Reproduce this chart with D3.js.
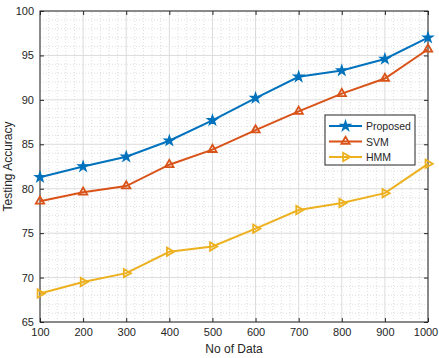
<!DOCTYPE html>
<html>
<head>
<meta charset="utf-8">
<script src="https://cdn.jsdelivr.net/npm/d3@7"></script>
<style>
  body { margin: 0; background: #fff; }
  text { font-family: "Liberation Sans", Arial, sans-serif; }
</style>
</head>
<body>
<svg id="chart" width="439" height="358"></svg>
<script>
var dataSize = [100, 200, 300, 400, 500, 600, 700, 800, 900, 1000];
var proposed = [81.3, 82.5, 83.6, 85.4, 87.7, 90.2, 92.6, 93.3, 94.6, 97.0];
var svmAcc   = [78.6, 79.6, 80.3, 82.7, 84.4, 86.6, 88.7, 90.7, 92.4, 95.7];
var hmmAcc   = [68.2, 69.5, 70.5, 72.9, 73.5, 75.5, 77.6, 78.4, 79.5, 82.8];
var xTicks = [100, 200, 300, 400, 500, 600, 700, 800, 900, 1000];
var yTicks = [65, 70, 75, 80, 85, 90, 95, 100];
var seriesNames = ["Proposed", "SVM", "HMM"];
var colors = ["#0072BD", "#D95319", "#EDB120"];

var margin = {left: 40, right: 11, top: 11, bottom: 36};
var width = 439, height = 358;

var svg = d3.select("#chart");

var x = d3.scaleLinear().domain([100, 1000]).range([margin.left, width - margin.right]);
var y = d3.scaleLinear().domain([65, 100]).range([height - margin.bottom, margin.top]);

var g = svg.append("g");

// minor grid (dotted)
var xMinor = d3.range(100, 1001, 20).filter(function(v) { return v % 100 !== 0; });
var yMinor = d3.range(65, 100.01, 1).filter(function(v) { return v % 5 !== 0; });

g.selectAll(".xminor").data(xMinor).enter().append("line")
  .attr("x1", function(d) { return x(d); }).attr("x2", function(d) { return x(d); })
  .attr("y1", y(65)).attr("y2", y(100))
  .attr("stroke", "#c8c8c8").attr("stroke-width", 0.6).attr("stroke-dasharray", "1,2");
g.selectAll(".yminor").data(yMinor).enter().append("line")
  .attr("y1", function(d) { return y(d); }).attr("y2", function(d) { return y(d); })
  .attr("x1", x(100)).attr("x2", x(1000))
  .attr("stroke", "#c8c8c8").attr("stroke-width", 0.6).attr("stroke-dasharray", "1,2");

// major grid
g.selectAll(".xmajor").data(xTicks).enter().append("line")
  .attr("x1", function(d) { return x(d); }).attr("x2", function(d) { return x(d); })
  .attr("y1", y(65)).attr("y2", y(100))
  .attr("stroke", "#dcdcdc").attr("stroke-width", 1);
g.selectAll(".ymajor").data(yTicks).enter().append("line")
  .attr("y1", function(d) { return y(d); }).attr("y2", function(d) { return y(d); })
  .attr("x1", x(100)).attr("x2", x(1000))
  .attr("stroke", "#dcdcdc").attr("stroke-width", 1);

// axes
var xAxis = d3.axisBottom(x).tickValues(xTicks).tickFormat(d3.format("d"))
  .tickSizeInner(-4).tickSizeOuter(0).tickPadding(6);
var yAxis = d3.axisLeft(y).tickValues(yTicks).tickFormat(d3.format("d"))
  .tickSizeInner(-4).tickSizeOuter(0).tickPadding(6);

var gx = svg.append("g").attr("transform", "translate(0," + y(65) + ")").call(xAxis);
svg.append("g").attr("transform", "translate(" + x(100) + ",0)").call(yAxis);
// top / right ticks
svg.append("g").attr("transform", "translate(0," + y(100) + ")")
  .call(d3.axisTop(x).tickValues(xTicks).tickSizeInner(-4).tickSizeOuter(0).tickFormat(""));
svg.append("g").attr("transform", "translate(" + x(1000) + ",0)")
  .call(d3.axisRight(y).tickValues(yTicks).tickSizeInner(-4).tickSizeOuter(0).tickFormat(""));

svg.selectAll(".domain").remove();
svg.selectAll(".tick line").attr("stroke", "#262626");
svg.selectAll(".tick text").attr("fill", "#262626").style("font-size", "11px");
// keep the last label inside the window
gx.selectAll(".tick text").filter(function(d) { return d === 1000; }).attr("dx", "-2.5");

// frame
svg.append("rect")
  .attr("x", x(100)).attr("y", y(100))
  .attr("width", x(1000) - x(100)).attr("height", y(65) - y(100))
  .attr("fill", "none").attr("stroke", "#262626").attr("stroke-width", 1);

// axis titles
svg.append("text").attr("x", (x(100) + x(1000)) / 2).attr("y", 353)
  .attr("text-anchor", "middle").attr("fill", "#262626").style("font-size", "12px").text("No of Data");
svg.append("text").attr("transform", "translate(12," + ((y(65) + y(100)) / 2) + ") rotate(-90)")
  .attr("text-anchor", "middle").attr("fill", "#262626").style("font-size", "12px").text("Testing Accuracy");

// markers
var star = d3.symbol().type(d3.symbolStar).size(32);
var tri = d3.symbol().type(d3.symbolTriangle).size(30);

function drawMarker(sel, i) {
  if (i === 0) {
    sel.append("path").attr("d", star).attr("fill", colors[0]).attr("stroke", colors[0]).attr("stroke-width", 1.2);
  } else if (i === 1) {
    sel.append("path").attr("d", tri).attr("fill", "none").attr("stroke", colors[1]).attr("stroke-width", 1.8);
  } else {
    sel.append("path").attr("d", tri).attr("transform", "rotate(90)")
      .attr("fill", "none").attr("stroke", colors[2]).attr("stroke-width", 1.8);
  }
}

var allSeries = [proposed, svmAcc, hmmAcc];
var line = d3.line().x(function(d, i) { return x(dataSize[i]); }).y(function(d) { return y(d); });

allSeries.forEach(function(vals, si) {
  svg.append("path").datum(vals)
    .attr("fill", "none").attr("stroke", colors[si]).attr("stroke-width", 2)
    .attr("d", line);
  vals.forEach(function(v, i) {
    var m = svg.append("g").attr("transform", "translate(" + x(dataSize[i]) + "," + y(v) + ")");
    drawMarker(m, si);
  });
});

// legend
var lg = svg.append("g").attr("transform", "translate(325,115)");
lg.append("rect").attr("width", 90).attr("height", 50)
  .attr("fill", "#fff").attr("stroke", "#262626").attr("stroke-width", 1);
seriesNames.forEach(function(name, i) {
  var yy = 11 + i * 15.5;
  lg.append("line").attr("x1", 4).attr("x2", 37).attr("y1", yy).attr("y2", yy)
    .attr("stroke", colors[i]).attr("stroke-width", 2);
  var m = lg.append("g").attr("transform", "translate(20.5," + yy + ")");
  drawMarker(m, i);
  lg.append("text").attr("x", 41).attr("y", yy + 4).attr("fill", "#262626")
    .style("font-size", "10.5px").text(name);
});
</script>
</body>
</html>
